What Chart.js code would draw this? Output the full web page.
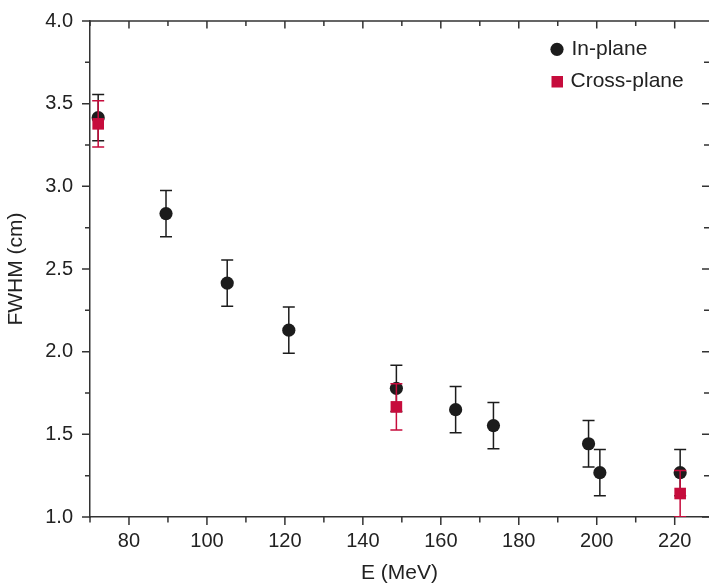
<!DOCTYPE html>
<html>
<head>
<meta charset="utf-8">
<script src="https://cdn.jsdelivr.net/npm/chart.js@4.4.1/dist/chart.umd.min.js"></script>
<style>
  html, body { margin: 0; padding: 0; background: #fff; overflow: hidden; }
  #wrap { width: 709px; height: 588px; }
</style>
</head>
<body>
<div id="wrap"><canvas id="fwhm"></canvas></div>
<script>
// In-plane measurements
let inPlaneE = [72.1, 89.5, 105.2, 121.0, 148.6, 163.8, 173.5, 197.9, 200.8, 221.4];
let inPlaneFwhm = [3.415, 2.835, 2.415, 2.13, 1.778, 1.649, 1.553, 1.443, 1.268, 1.268];
let inPlaneErr = [0.14, 0.14, 0.14, 0.14, 0.14, 0.14, 0.14, 0.14, 0.14, 0.14];

// Cross-plane measurements
let crossPlaneE = [72.1, 148.6, 221.4];
let crossPlaneFwhm = [3.378, 1.666, 1.142];
let crossPlaneErr = [0.14, 0.14, 0.14];

// Tick labels
let xTickValues = [80, 100, 120, 140, 160, 180, 200, 220];
let yTickValues = [1.0, 1.5, 2.0, 2.5, 3.0, 3.5, 4.0];

let blackColor = '#1c1c1c';
let redColor = '#c60c3c';
let axisColor = '#333333';
let textColor = '#222222';
let fontFamily = '"Liberation Sans", Arial, Helvetica, sans-serif';

function toPoints(xs, ys){
    let pts = [];
    for (let i in xs){
        pts.push({x: xs[i], y: ys[i]});
    }
    return pts;
}

// error bars drawn just before each dataset's markers
const errorBars = {
    id: 'errorBars',
    beforeDatasetDraw(chart, args){
        let ds = chart.data.datasets[args.index];
        if (!ds.errors) return;
        let xs = chart.scales.x;
        let ys = chart.scales.y;
        let area = chart.chartArea;
        let ctx = chart.ctx;
        ctx.save();
        ctx.beginPath();
        ctx.rect(area.left, area.top - 20, area.right - area.left, area.bottom - area.top + 20);
        ctx.clip();
        ctx.strokeStyle = ds.backgroundColor;
        ctx.lineWidth = 1.5;
        for (let i in ds.data){
            let px = xs.getPixelForValue(ds.data[i].x);
            let top = ys.getPixelForValue(ds.data[i].y + ds.errors[i]);
            let bot = ys.getPixelForValue(ds.data[i].y - ds.errors[i]);
            ctx.beginPath();
            ctx.moveTo(px, top); ctx.lineTo(px, bot);
            ctx.moveTo(px - 6, top); ctx.lineTo(px + 6, top);
            ctx.moveTo(px - 6, bot); ctx.lineTo(px + 6, bot);
            ctx.stroke();
        }
        ctx.restore();
    }
};

// frame ticks on all four sides, top spine and legend
const frame = {
    id: 'frame',
    afterDraw(chart){
        let xs = chart.scales.x;
        let ys = chart.scales.y;
        let area = chart.chartArea;
        let ctx = chart.ctx;
        ctx.save();
        ctx.strokeStyle = axisColor;
        ctx.lineWidth = 1.5;
        ctx.beginPath();
        ctx.moveTo(area.left, area.top);
        ctx.lineTo(area.right, area.top);
        for (let v = 70; v <= 228; v += 10){
            let px = xs.getPixelForValue(v);
            let major = v % 20 == 0;
            ctx.moveTo(px, area.bottom); ctx.lineTo(px, area.bottom + (major ? 8 : 5.5));
            ctx.moveTo(px, area.top); ctx.lineTo(px, area.top + (major ? 7.5 : 5));
        }
        for (let k = 0; k <= 12; k++){
            let v = 1 + k * 0.25;
            let py = ys.getPixelForValue(v);
            let major = k % 2 == 0;
            ctx.moveTo(area.left, py); ctx.lineTo(area.left - (major ? 8 : 5), py);
            ctx.moveTo(area.right, py); ctx.lineTo(area.right - (major ? 7 : 5), py);
        }
        ctx.stroke();

        // legend
        ctx.fillStyle = blackColor;
        ctx.beginPath();
        ctx.arc(557, 49.3, 6.6, 0, Math.PI * 2);
        ctx.fill();
        ctx.fillStyle = redColor;
        ctx.fillRect(551.5, 76, 11.5, 11.5);
        ctx.fillStyle = textColor;
        ctx.font = '21px ' + fontFamily;
        ctx.textBaseline = 'middle';
        ctx.textAlign = 'left';
        ctx.fillText('In-plane', 571.5, 49.5);
        ctx.fillText('Cross-plane', 570.5, 81.5);
        ctx.restore();
    }
};

let ctx = document.getElementById('fwhm').getContext('2d');
let fwhmChart = new Chart(ctx, {
    type: 'scatter',
    data: {
        datasets: [
            {
                label: 'In-plane',
                data: toPoints(inPlaneE, inPlaneFwhm),
                errors: inPlaneErr,
                backgroundColor: blackColor,
                borderColor: blackColor,
                pointStyle: 'circle',
                pointRadius: 6.6,
                pointBorderWidth: 0,
                order: 2
            },
            {
                label: 'Cross-plane',
                data: toPoints(crossPlaneE, crossPlaneFwhm),
                errors: crossPlaneErr,
                backgroundColor: redColor,
                borderColor: redColor,
                pointStyle: 'rect',
                pointRadius: 8.2,
                pointBorderWidth: 0,
                order: 1
            }
        ]
    },
    options: {
        responsive: true,
        maintainAspectRatio: false,
        animation: false,
        layout: { autoPadding: false, padding: { top: 14, right: 0, bottom: 0, left: 0 } },
        plugins: {
            legend: { display: false },
            tooltip: { enabled: false }
        },
        scales: {
            x: {
                type: 'linear',
                min: 70,
                max: 228.8,
                afterBuildTicks: (scale) => { scale.ticks = xTickValues.map(v => ({value: v})); },
                afterFit: (scale) => { scale.height = 71; scale.paddingRight = 0; scale.paddingLeft = 0; },
                grid: { display: false, drawTicks: true, tickLength: 8 },
                border: { display: true, color: axisColor, width: 1.5 },
                ticks: {
                    color: textColor,
                    padding: 4,
                    maxRotation: 0,
                    font: { family: fontFamily, size: 20 }
                },
                title: {
                    display: true,
                    text: 'E (MeV)',
                    color: textColor,
                    padding: { top: 0, bottom: 2 },
                    font: { family: fontFamily, size: 21 }
                }
            },
            y: {
                type: 'linear',
                min: 1.0,
                max: 4.0,
                afterBuildTicks: (scale) => { scale.ticks = yTickValues.map(v => ({value: v})); },
                afterFit: (scale) => { scale.width = 90; },
                grid: { display: false, drawTicks: true, tickLength: 8 },
                border: { display: true, color: axisColor, width: 1.5 },
                ticks: {
                    color: textColor,
                    padding: 9,
                    font: { family: fontFamily, size: 20 },
                    callback: (v) => v.toFixed(1)
                },
                title: {
                    display: true,
                    text: 'FWHM (cm)',
                    color: textColor,
                    padding: { top: 4, bottom: 0 },
                    font: { family: fontFamily, size: 21 }
                }
            }
        }
    },
    plugins: [errorBars, frame]
});
</script>
</body>
</html>
